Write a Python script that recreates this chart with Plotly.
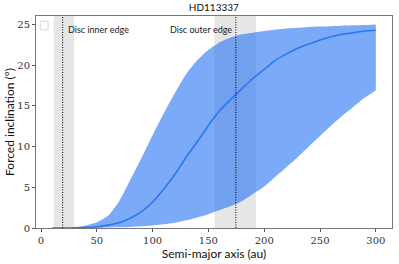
import plotly.graph_objects as go

# Semi-major axis grid (au)
a_au = [10, 20, 30, 40, 50, 60, 70, 80, 90, 100, 110, 120, 130, 140, 150,
        160, 170, 180, 190, 200, 210, 220, 230, 240, 250, 260, 270, 280, 290, 300]
# Forced inclination (deg)
inc_upper = [0.0, 0.02, 0.1, 0.3, 0.7, 1.5, 3.3, 5.9, 8.6, 11.4, 14.1, 16.6, 18.9, 20.6, 21.9,
             22.8, 23.4, 23.8, 24.0, 24.2, 24.35, 24.5, 24.6, 24.7, 24.75, 24.8, 24.85, 24.9, 24.95, 25.0]
inc_median = [0.0, 0.0, 0.02, 0.05, 0.15, 0.35, 0.65, 1.2, 2.0, 3.2, 4.8, 6.6, 8.7, 10.6, 12.6,
              14.4, 15.8, 17.1, 18.4, 19.5, 20.6, 21.4, 22.1, 22.6, 23.1, 23.5, 23.8, 24.0, 24.2, 24.3]
inc_lower = [0.0, 0.0, 0.0, 0.0, 0.02, 0.05, 0.08, 0.12, 0.2, 0.3, 0.45, 0.65, 0.95, 1.3, 1.7,
             2.2, 2.7, 3.3, 4.2, 5.1, 6.3, 7.5, 8.7, 10.0, 11.3, 12.6, 13.8, 14.9, 16.0, 16.9]

# Disc edges (au): [band low, edge, band high]
inner_edge = [11.3, 19.4, 29.6]
outer_edge = [155.5, 174.6, 192.5]
edge_labels = ["Disc inner edge", "Disc outer edge"]

x_ticks = [0, 50, 100, 150, 200, 250, 300]
y_ticks = [0, 5, 10, 15, 20, 25]

fig = go.Figure()
fig.add_trace(go.Scatter(x=a_au, y=inc_lower, mode="lines", line=dict(width=0, shape="spline", smoothing=0.6),
                         showlegend=False, hoverinfo="skip"))
fig.add_trace(go.Scatter(x=a_au, y=inc_upper, mode="lines", line=dict(width=0, shape="spline", smoothing=0.6),
                         fill="tonexty", fillcolor="rgba(33,113,243,0.6)",
                         showlegend=False, hoverinfo="skip"))
fig.add_trace(go.Scatter(x=a_au, y=inc_median, mode="lines",
                         line=dict(color="#2a78f0", width=1.6, shape="spline", smoothing=0.6),
                         showlegend=False))

for band in (inner_edge, outer_edge):
    fig.add_vrect(x0=band[0], x1=band[2], fillcolor="#e6e6e6", line_width=0, layer="below")
    fig.add_shape(type="line", x0=band[1], x1=band[1], y0=0, y1=1, yref="y domain",
                  line=dict(color="black", width=1, dash="1px,1.5px"), layer="above")

fig.add_annotation(x=inner_edge[1], y=0.935, xref="x", yref="y domain", text=edge_labels[0],
                   showarrow=False, xanchor="left", yanchor="middle", xshift=3,
                   font=dict(family="Lato, DejaVu Sans", size=9, color="#222"))
fig.add_annotation(x=outer_edge[1], y=0.935, xref="x", yref="y domain", text=edge_labels[1],
                   showarrow=False, xanchor="right", yanchor="middle", xshift=-2,
                   font=dict(family="Lato, DejaVu Sans", size=9, color="#222"))

# empty legend box
fig.add_shape(type="rect", xref="x domain", yref="y domain", x0=0.012, x1=0.034, y0=0.935, y1=0.975,
              line=dict(color="#d8d8d8", width=1), fillcolor="white", layer="above")

fig.update_layout(
    width=399, height=264,
    margin=dict(l=36, r=7, t=16, b=36),
    paper_bgcolor="white", plot_bgcolor="white",
    title=dict(text="HD113337", x=0.536, xanchor="center", y=0.985, yanchor="top",
               font=dict(family="Lato, DejaVu Sans", size=10, color="#111")),
)
fig.update_xaxes(range=[-4.5, 314.5], tickvals=x_ticks, ticks="outside", ticklen=3,
                 tickcolor="#555", showline=True, linecolor="#777", linewidth=1, mirror=True,
                 showgrid=False, zeroline=False, automargin=False,
                 tickfont=dict(family="DejaVu Serif", size=10, color="#333"),
                 title=dict(text="Semi-major axis (au)", standoff=0,
                            font=dict(family="Lato, DejaVu Sans", size=12, color="#111")))
fig.update_yaxes(range=[0, 26.05], tickvals=y_ticks, ticks="outside", ticklen=3,
                 tickcolor="#555", showline=True, linecolor="#777", linewidth=1, mirror=True,
                 showgrid=False, zeroline=False, automargin=False,
                 tickfont=dict(family="DejaVu Serif", size=10, color="#333"),
                 title=dict(text="Forced inclination (°)", standoff=0,
                            font=dict(family="Lato, DejaVu Sans", size=12, color="#111")))

fig.write_html("out.html", config={"displayModeBar": False},
               post_script="document.body.style.margin='0';")
